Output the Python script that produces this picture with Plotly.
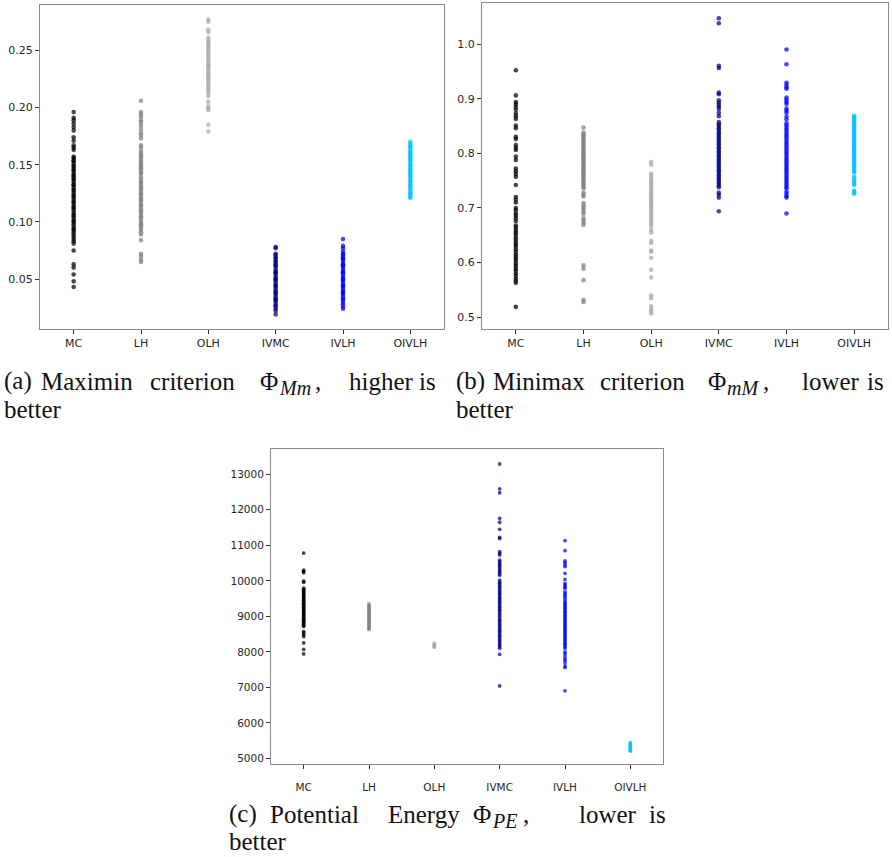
import plotly.graph_objects as go

# Sampling designs compared in every panel
designs = ["MC", "LH", "OLH", "IVMC", "IVLH", "OIVLH"]
colors = ["#000000", "#808080", "#a9a9a9", "#000080", "#0000ff", "#00bfff"]

# (a) Maximin criterion values per design
maximin_mc = [0.196, 0.191, 0.189, 0.186, 0.183, 0.180, 0.174, 0.171, 0.167, 0.165, 0.163,
              0.157, 0.156, 0.154, 0.153, 0.151, 0.149, 0.148, 0.146, 0.145, 0.143, 0.141,
              0.140, 0.138, 0.137, 0.135, 0.133, 0.132, 0.130, 0.128, 0.127, 0.125, 0.123,
              0.122, 0.120, 0.118, 0.117, 0.115, 0.113, 0.112, 0.110, 0.108, 0.106, 0.105,
              0.103, 0.101, 0.100, 0.098, 0.096, 0.094, 0.093, 0.091, 0.089, 0.087, 0.085,
              0.083, 0.081, 0.075, 0.063, 0.060, 0.054, 0.048, 0.043]
maximin_lh = [0.206, 0.196, 0.194, 0.192, 0.189, 0.187, 0.184, 0.181, 0.178, 0.176, 0.173,
              0.167, 0.165, 0.162, 0.160, 0.158, 0.157, 0.155, 0.153, 0.151, 0.150, 0.148,
              0.147, 0.145, 0.143, 0.142, 0.139, 0.137, 0.135, 0.134, 0.132, 0.130, 0.129,
              0.127, 0.125, 0.124, 0.122, 0.120, 0.119, 0.117, 0.115, 0.114, 0.112, 0.110,
              0.109, 0.107, 0.105, 0.104, 0.102, 0.100, 0.098, 0.097, 0.095, 0.093, 0.091,
              0.089, 0.084, 0.072, 0.070, 0.067, 0.065]
maximin_olh = [0.277, 0.275, 0.268, 0.266, 0.261, 0.259, 0.257, 0.256, 0.254, 0.252, 0.250,
               0.248, 0.246, 0.245, 0.243, 0.241, 0.239, 0.237, 0.236, 0.234, 0.232, 0.230,
               0.228, 0.226, 0.225, 0.223, 0.221, 0.219, 0.217, 0.215, 0.213, 0.210, 0.205,
               0.201, 0.199, 0.198, 0.185, 0.179]
maximin_ivmc = [0.078, 0.077, 0.072, 0.071, 0.069, 0.068, 0.066, 0.065, 0.063, 0.062, 0.061,
                0.059, 0.057, 0.056, 0.055, 0.053, 0.051, 0.050, 0.049, 0.047, 0.045, 0.044,
                0.043, 0.041, 0.039, 0.038, 0.037, 0.035, 0.033, 0.032, 0.031, 0.029, 0.027,
                0.026, 0.024, 0.022, 0.019]
maximin_ivlh = [0.085, 0.079, 0.077, 0.074, 0.072, 0.071, 0.069, 0.068, 0.067, 0.065, 0.063,
                0.062, 0.061, 0.059, 0.057, 0.056, 0.055, 0.053, 0.051, 0.050, 0.049, 0.047,
                0.045, 0.044, 0.043, 0.041, 0.039, 0.038, 0.037, 0.035, 0.033, 0.032, 0.030,
                0.028, 0.026, 0.024]
maximin_oivlh = [0.170, 0.168, 0.166, 0.165, 0.163, 0.161, 0.160, 0.158, 0.157, 0.155, 0.154,
                 0.152, 0.150, 0.149, 0.147, 0.146, 0.144, 0.143, 0.141, 0.140, 0.138, 0.136,
                 0.135, 0.133, 0.132, 0.130, 0.129, 0.127, 0.125, 0.124, 0.122, 0.121]

# (b) Minimax criterion values per design
minimax_mc = [0.952, 0.906, 0.894, 0.890, 0.885, 0.880, 0.873, 0.868, 0.863, 0.851, 0.846,
              0.830, 0.826, 0.815, 0.810, 0.806, 0.794, 0.788, 0.772, 0.767, 0.762, 0.757,
              0.742, 0.720, 0.715, 0.710, 0.700, 0.696, 0.690, 0.686, 0.681, 0.676, 0.668,
              0.664, 0.659, 0.655, 0.651, 0.646, 0.642, 0.637, 0.633, 0.629, 0.624, 0.620,
              0.615, 0.611, 0.607, 0.603, 0.598, 0.594, 0.589, 0.585, 0.580, 0.576, 0.571,
              0.567, 0.563, 0.519]
minimax_lh = [0.847, 0.838, 0.835, 0.832, 0.829, 0.826, 0.823, 0.820, 0.817, 0.814, 0.811,
              0.808, 0.805, 0.802, 0.799, 0.796, 0.793, 0.790, 0.787, 0.784, 0.781, 0.778,
              0.775, 0.772, 0.769, 0.766, 0.763, 0.760, 0.757, 0.754, 0.751, 0.748, 0.745,
              0.742, 0.739, 0.736, 0.728, 0.724, 0.721, 0.709, 0.705, 0.701, 0.697, 0.693,
              0.689, 0.681, 0.677, 0.673, 0.669, 0.595, 0.589, 0.568, 0.532, 0.528]
minimax_olh = [0.784, 0.779, 0.763, 0.759, 0.754, 0.750, 0.747, 0.743, 0.739, 0.735, 0.731,
               0.727, 0.723, 0.719, 0.715, 0.711, 0.707, 0.703, 0.699, 0.695, 0.691, 0.687,
               0.683, 0.679, 0.675, 0.671, 0.667, 0.660, 0.655, 0.640, 0.636, 0.622, 0.620,
               0.609, 0.587, 0.573, 0.540, 0.535, 0.520, 0.515, 0.511, 0.507]
minimax_ivmc = [1.047, 1.038, 0.960, 0.956, 0.911, 0.908, 0.897, 0.893, 0.889, 0.885, 0.881,
                0.874, 0.868, 0.857, 0.853, 0.850, 0.846, 0.843, 0.839, 0.836, 0.832, 0.829,
                0.825, 0.822, 0.818, 0.815, 0.811, 0.808, 0.804, 0.801, 0.797, 0.794, 0.790,
                0.787, 0.783, 0.780, 0.776, 0.773, 0.769, 0.766, 0.762, 0.759, 0.755, 0.752,
                0.748, 0.745, 0.741, 0.738, 0.728, 0.724, 0.719, 0.694]
minimax_ivlh = [0.990, 0.963, 0.929, 0.925, 0.921, 0.918, 0.902, 0.898, 0.894, 0.890, 0.882,
                0.878, 0.874, 0.867, 0.862, 0.855, 0.851, 0.847, 0.843, 0.839, 0.835, 0.831,
                0.827, 0.823, 0.819, 0.815, 0.811, 0.807, 0.803, 0.799, 0.795, 0.791, 0.787,
                0.783, 0.779, 0.775, 0.771, 0.767, 0.763, 0.759, 0.755, 0.751, 0.747, 0.743,
                0.739, 0.736, 0.730, 0.726, 0.722, 0.719, 0.690]
minimax_oivlh = [0.869, 0.866, 0.863, 0.860, 0.857, 0.854, 0.851, 0.848, 0.845, 0.842, 0.839,
                 0.836, 0.833, 0.830, 0.827, 0.824, 0.821, 0.818, 0.815, 0.812, 0.809, 0.806,
                 0.803, 0.800, 0.797, 0.794, 0.791, 0.788, 0.785, 0.782, 0.779, 0.776, 0.773,
                 0.770, 0.767, 0.765, 0.757, 0.753, 0.749, 0.745, 0.742, 0.732, 0.729, 0.726]

# (c) Potential energy values per design
energy_mc = [10780, 10300, 10260, 10230, 9990, 9960, 9790, 9760, 9730, 9700, 9665, 9640,
             9610, 9580, 9550, 9520, 9490, 9455, 9430, 9400, 9370, 9340, 9305, 9280, 9250,
             9220, 9190, 9160, 9130, 9100, 9070, 9040, 9010, 8980, 8950, 8920, 8890, 8860,
             8830, 8800, 8770, 8740, 8710, 8570, 8530, 8480, 8430, 8250, 8070, 7940]
energy_lh = [9350, 9310, 9280, 9240, 9210, 9170, 9140, 9100, 9070, 9030, 9000, 8960, 8930,
             8890, 8860, 8820, 8790, 8750, 8720, 8690, 8660, 8630]
energy_olh = [8240, 8210, 8190, 8170, 8150, 8130]
energy_ivmc = [13290, 12590, 12480, 11760, 11650, 11450, 11225, 11190, 10820, 10770, 10730,
               10580, 10530, 10480, 10440, 10390, 10340, 10290, 10250, 10200, 10160, 10020,
               9970, 9930, 9880, 9840, 9790, 9740, 9700, 9650, 9610, 9560, 9510, 9470, 9420,
               9380, 9330, 9280, 9240, 9190, 9150, 9100, 9050, 9000, 8940, 8890, 8850, 8800,
               8750, 8700, 8660, 8610, 8570, 8520, 8470, 8430, 8380, 8330, 8290, 8240, 8190,
               8150, 8100, 7930, 7040]
energy_ivlh = [11130, 10850, 10560, 10510, 10450, 10400, 10210, 10040, 9930, 9880, 9830,
               9790, 9690, 9640, 9590, 9540, 9480, 9410, 9370, 9320, 9280, 9230, 9190, 9140,
               9100, 9050, 9010, 8960, 8920, 8870, 8830, 8780, 8740, 8690, 8650, 8600, 8560,
               8510, 8470, 8420, 8380, 8330, 8290, 8240, 8200, 8150, 8100, 8000, 7950, 7880,
               7810, 7760, 7690, 7600, 7560, 6900]
energy_oivlh = [5440, 5410, 5380, 5350, 5320, 5290, 5260, 5230, 5200]

maximin = [maximin_mc, maximin_lh, maximin_olh, maximin_ivmc, maximin_ivlh, maximin_oivlh]
minimax = [minimax_mc, minimax_lh, minimax_olh, minimax_ivmc, minimax_ivlh, minimax_oivlh]
energy = [energy_mc, energy_lh, energy_olh, energy_ivmc, energy_ivlh, energy_oivlh]

maximin_ticks = [0.05, 0.10, 0.15, 0.20, 0.25]
maximin_ticktext = ["0.05", "0.10", "0.15", "0.20", "0.25"]
minimax_ticks = [0.5, 0.6, 0.7, 0.8, 0.9, 1.0]
minimax_ticktext = ["0.5", "0.6", "0.7", "0.8", "0.9", "1.0"]
energy_ticks = [5000, 6000, 7000, 8000, 9000, 10000, 11000, 12000, 13000]
energy_ticktext = [str(v) for v in energy_ticks]

W, H = 892, 857


def px_x(a, b):
    return [a / W, b / W]


def px_y(top, bottom):
    return [1 - bottom / H, 1 - top / H]


fig = go.Figure()

panels = [
    (maximin, "x", "y", 4.6),
    (minimax, "x2", "y2", 4.6),
    (energy, "x3", "y3", 3.8),
]
for values, xa, ya, msize in panels:
    for name, col, vals in zip(designs, colors, values):
        fig.add_trace(go.Scatter(
            x=[name] * len(vals), y=vals, mode="markers",
            marker=dict(color=col, size=msize, opacity=0.72, line=dict(width=0)),
            xaxis=xa, yaxis=ya, showlegend=False, hoverinfo="y",
        ))

tick_font = dict(family="DejaVu Sans", size=11, color="#262626")
tick_font_c = dict(family="DejaVu Sans", size=10.5, color="#262626")
common = dict(showgrid=False, zeroline=False, showline=True, mirror=True,
              linecolor="#8a8a8a", linewidth=1, ticks="outside", ticklen=4,
              tickwidth=0.8, tickcolor="#333333")

fig.update_layout(
    width=W, height=H,
    margin=dict(l=0, r=0, t=0, b=0),
    paper_bgcolor="white", plot_bgcolor="white",
    xaxis=dict(domain=px_x(40, 444), type="category", categoryorder="array",
               categoryarray=designs, range=[-0.5, 5.5], anchor="y",
               tickfont=tick_font, **common),
    yaxis=dict(domain=px_y(5, 329), range=[0.0063, 0.2897], anchor="x",
               tickvals=maximin_ticks, ticktext=maximin_ticktext,
               tickfont=tick_font, **common),
    xaxis2=dict(domain=px_x(482, 888), type="category", categoryorder="array",
                categoryarray=designs, range=[-0.5, 5.5], anchor="y2",
                tickfont=tick_font, **common),
    yaxis2=dict(domain=px_y(3, 329), range=[0.4786, 1.075], anchor="x2",
                tickvals=minimax_ticks, ticktext=minimax_ticktext,
                tickfont=tick_font, **common),
    xaxis3=dict(domain=px_x(271, 663), type="category", categoryorder="array",
                categoryarray=designs, range=[-0.5, 5.5], anchor="y3",
                tickfont=tick_font_c, ticklabelstandoff=9, **common),
    yaxis3=dict(domain=px_y(449, 764), range=[4840, 13713], anchor="x3",
                tickvals=energy_ticks, ticktext=energy_ticktext,
                tickfont=tick_font_c, **common),
)

# Sub-figure captions, laid out word by word to keep the justified spacing.
# Each entry: (line centre y, [(left x, text[, size, italic, dy]), ...])
FS = 25
SUB = 20
captions = [
    (381, [(3, "(a)"), (40, "Maximin"), (149, "criterion"), (259, "Φ"),
           (278, "Mm", SUB, True, 7), (314, ","), (348, "higher"), (418, "is")]),
    (409, [(3, "better")]),
    (381, [(455, "(b)"), (492, "Minimax"), (599, "criterion"), (707, "Φ"),
           (726, "mM", SUB, True, 7), (762, ","), (801, "lower"), (866, "is")]),
    (409, [(455, "better")]),
    (814, [(228, "(c)"), (269, "Potential"), (387, "Energy"), (472, "Φ"),
           (491, "PE", SUB, True, 7), (522, ","), (578, "lower"), (648, "is")]),
    (841, [(228, "better")]),
]
for yc, words in captions:
    for item in words:
        xl, txt = item[0], item[1]
        size, italic, dy = (item[2], item[3], item[4]) if len(item) > 2 else (FS, False, 0)
        label = f"<i>{txt}</i>" if italic else txt
        fig.add_annotation(x=xl / W, y=1 - (yc + dy) / H, xref="paper", yref="paper",
                           xanchor="left", yanchor="middle", text=label,
                           showarrow=False, borderpad=0,
                           font=dict(family="Liberation Serif", size=size, color="#111111"))

fig.write_html("out.html")
